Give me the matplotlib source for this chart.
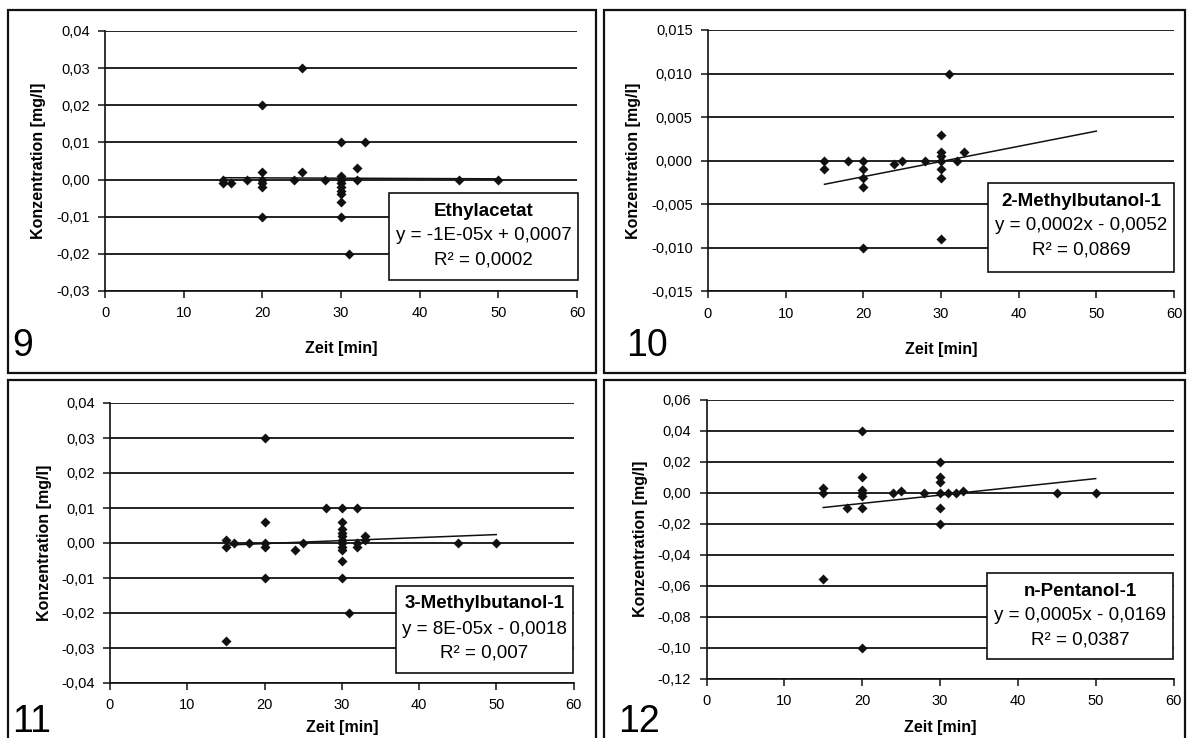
import matplotlib
matplotlib.use("Agg")
import matplotlib.pyplot as plt
from matplotlib.patches import Rectangle
from matplotlib.ticker import FuncFormatter, MultipleLocator

plt.rcParams['font.family'] = ['Liberation Sans', 'DejaVu Sans']

# ---------------- data ----------------
x9 = [15, 15, 16, 18, 20, 20, 20, 20, 20, 20, 24, 25, 25, 28,
      30, 30, 30, 30, 30, 30, 30, 30, 30, 31, 32, 32, 33, 45, 50]
y9 = [0, -0.001, -0.001, 0, 0.02, 0.002, 0, -0.001, -0.002, -0.01, 0, 0.03, 0.002, 0,
      0.01, 0.001, 0, -0.001, -0.002, -0.003, -0.004, -0.006, -0.01, -0.02, 0.003, 0, 0.01, 0, 0]
trend9_x = [15, 50]
trend9_y = [0.0005, 0.0002]

x10 = [15, 15, 18, 20, 20, 20, 20, 20, 24, 25, 28,
       30, 30, 30, 30, 30, 30, 30, 31, 32, 33]
y10 = [0, -0.001, 0, 0, -0.001, -0.002, -0.003, -0.01, -0.0004, 0, 0,
       0.003, 0.001, 0.0005, 0, -0.001, -0.002, -0.009, 0.010, 0, 0.001]
trend10_x = [15, 50]
trend10_y = [-0.0027, 0.0034]

x11 = [15, 15, 15, 16, 18, 20, 20, 20, 20, 20, 24, 25, 28,
       30, 30, 30, 30, 30, 30, 30, 30, 30, 30, 30, 31, 32, 32, 32, 33, 33, 45, 50]
y11 = [0.001, -0.001, -0.028, 0, 0, 0.03, 0.006, 0, -0.001, -0.01, -0.002, 0, 0.01,
       0.01, 0.006, 0.004, 0.003, 0.002, 0.001, 0, -0.001, -0.002, -0.005, -0.01,
       -0.02, 0.01, -0.001, 0, 0.002, 0.001, 0, 0]
trend11_x = [15, 50]
trend11_y = [-0.0006, 0.0024]

x12 = [15, 15, 15, 18, 20, 20, 20, 20, 20, 20, 20, 24, 25, 28,
       30, 30, 30, 30, 30, 30, 31, 32, 33, 45, 50]
y12 = [0.003, 0, -0.056, -0.01, 0.04, 0.01, 0.002, 0, -0.002, -0.01, -0.10, 0, 0.001, 0,
       0.02, 0.01, 0.007, 0, -0.01, -0.02, 0, 0, 0.001, 0, 0]
trend12_x = [15, 50]
trend12_y = [-0.0095, 0.0092]

names = ["Ethylacetat", "2-Methylbutanol-1", "3-Methylbutanol-1", "n-Pentanol-1"]
equations = ["y = -1E-05x + 0,0007", "y = 0,0002x - 0,0052",
             "y = 8E-05x - 0,0018", "y = 0,0005x - 0,0169"]
r2_texts = ["R² = 0,0002", "R² = 0,0869", "R² = 0,007", "R² = 0,0387"]
panel_numbers = ["9", "10", "11", "12"]

y_ranges = [(-0.03, 0.04, 0.01, 2), (-0.015, 0.015, 0.005, 3),
            (-0.04, 0.04, 0.01, 2), (-0.12, 0.06, 0.02, 2)]
x_range = (0, 60, 10)

# ---------------- layout (pixels) ----------------
W, H = 1188, 738
fig = plt.figure(figsize=(W / 100, H / 100), dpi=100)


def frac(x0, y0, x1, y1):
    return [x0 / W, 1 - y1 / H, (x1 - x0) / W, (y1 - y0) / H]


axes_px = [(105, 31, 577, 291), (708, 30, 1174, 291.5),
           (110, 403, 573.5, 683), (706.5, 400, 1173.5, 678.5)]
panel_px = [(8, 10, 596, 373), (604, 10, 1185, 373),
            (8, 380, 596, 745), (604, 380, 1185, 745)]
box_px = [(389, 193, 578, 280), (988, 183, 1174, 272),
          (396, 586, 573, 673), (987, 573, 1173, 659)]
num_px = [(12, 356), (626, 356), (12, 732), (618, 732)]
xlabel_pads = [15, 15, 5.5, 8.5]

data = [(x9, y9, trend9_x, trend9_y), (x10, y10, trend10_x, trend10_y),
        (x11, y11, trend11_x, trend11_y), (x12, y12, trend12_x, trend12_y)]

for i in range(4):
    # panel frame
    px0, py0, px1, py1 = panel_px[i]
    fig.add_artist(Rectangle((px0 / W, 1 - py1 / H), (px1 - px0) / W, (py1 - py0) / H,
                             transform=fig.transFigure, fill=False,
                             edgecolor='#111111', linewidth=1.6, zorder=0.5))

    ax = fig.add_axes(frac(*axes_px[i]))
    xs, ys, tx, ty = data[i]
    ymin, ymax, ystep, dec = y_ranges[i]

    ax.set_xlim(x_range[0], x_range[1])
    ax.set_ylim(ymin, ymax)
    ax.xaxis.set_major_locator(MultipleLocator(x_range[2]))
    ax.yaxis.set_major_locator(MultipleLocator(ystep))

    def fmt(v, pos, dec=dec):
        if abs(v) < 1e-12:
            v = 0.0
        return f"{v:.{dec}f}".replace('.', ',')

    ax.yaxis.set_major_formatter(FuncFormatter(fmt))
    ax.grid(axis='y', color='#111111', linewidth=1.3)
    ax.set_axisbelow(True)
    for s in ['top', 'right']:
        ax.spines[s].set_visible(False)
    for s in ['left', 'bottom']:
        ax.spines[s].set_color('#111111')
        ax.spines[s].set_linewidth(1.2)
    ax.tick_params(axis='both', direction='out', length=5, width=1.1,
                   color='#111111', labelsize=10.5, pad=6)
    ax.tick_params(axis='y', pad=6)
    ax.set_facecolor('white')

    ax.plot(tx, ty, color='#111111', linewidth=1.1, zorder=2)
    ax.scatter(xs, ys, marker='D', s=26, color='#111111', zorder=3, linewidths=0)

    ax.set_xlabel("Zeit [min]", fontsize=11.5, fontweight='bold', labelpad=xlabel_pads[i])
    ax.set_ylabel("Konzentration [mg/l]", fontsize=11.5, fontweight='bold', labelpad=7)

    # equation box
    bx0, by0, bx1, by1 = box_px[i]
    fig.add_artist(Rectangle((bx0 / W, 1 - by1 / H), (bx1 - bx0) / W, (by1 - by0) / H,
                             transform=fig.transFigure, facecolor='white',
                             edgecolor='#111111', linewidth=1.2, zorder=5))
    cx = (bx0 + bx1) / 2 / W
    fig.text(cx, 1 - (by0 + 18) / H, names[i], ha='center', va='center',
             fontsize=13.5, fontweight='bold', zorder=6)
    fig.text(cx, 1 - (by0 + 43) / H, equations[i], ha='center', va='center',
             fontsize=13.5, zorder=6)
    fig.text(cx, 1 - (by0 + 67) / H, r2_texts[i], ha='center', va='center',
             fontsize=13.5, zorder=6)

    # panel number
    nx, ny = num_px[i]
    fig.text(nx / W, 1 - ny / H, panel_numbers[i], ha='left', va='baseline',
             fontsize=27, zorder=6)

fig.savefig("out.png", dpi=100, facecolor='white')
